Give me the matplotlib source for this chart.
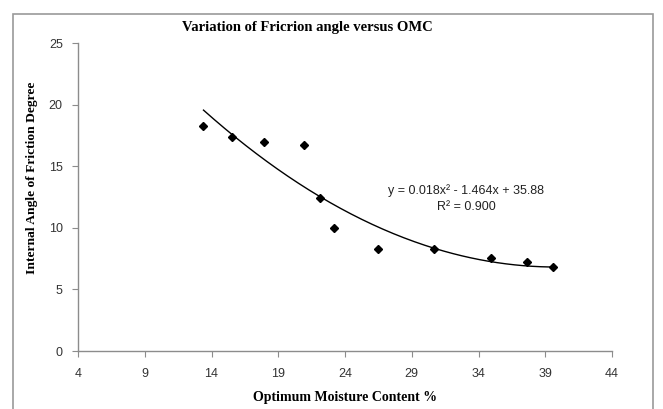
import matplotlib.pyplot as plt
from matplotlib.patches import Rectangle
import numpy as np

# Optimum moisture content (%) and internal friction angle (degree)
omc = [13.4, 15.5, 17.9, 20.9, 22.1, 23.2, 26.5, 30.7, 34.9, 37.6, 39.6]
phi = [18.3, 17.4, 17.0, 16.7, 12.4, 9.95, 8.25, 8.3, 7.55, 7.2, 6.8]

x_ticks = [4, 9, 14, 19, 24, 29, 34, 39, 44]
y_ticks = [0, 5, 10, 15, 20, 25]

eq_text = "y = 0.018x² - 1.464x + 35.88"
r2_text = "R² = 0.900"

fig = plt.figure(figsize=(6.63, 4.09), dpi=100)
ax = fig.add_axes([78 / 663, 1 - 351 / 409, (612 - 78) / 663, (351 - 43) / 409])

# polynomial trendline (order 2) fitted on the points
coef = np.polyfit(omc, phi, 2)
xs = np.linspace(min(omc), max(omc), 200)
ax.plot(xs, np.polyval(coef, xs), color="black", lw=1.0)

ax.plot(omc, phi, linestyle="none", marker="D", markersize=4.2,
        color="black")

ax.set_xlim(4, 44)
ax.set_ylim(0, 25)
ax.set_xticks(x_ticks)
ax.set_yticks(y_ticks)

for s in ["top", "right"]:
    ax.spines[s].set_visible(False)
for s in ["left", "bottom"]:
    ax.spines[s].set_color("#8c8c8c")
    ax.spines[s].set_linewidth(1.0)
ax.tick_params(colors="#8c8c8c", length=4, width=0.8, labelcolor="#333333",
               labelsize=9)
ax.tick_params(axis="x", pad=8)
ax.tick_params(axis="y", pad=7)
for lab in ax.get_xticklabels() + ax.get_yticklabels():
    lab.set_fontfamily("Liberation Sans")

# trendline equation
ax.text(33.1, 13.0, eq_text, ha="center", va="center", fontsize=9,
        family="Liberation Sans", color="#222222")
ax.text(33.1, 11.65, r2_text, ha="center", va="center", fontsize=9,
        family="Liberation Sans", color="#222222")

fig.text(307 / 663, 1 - 27 / 409, "Variation of Fricrion angle versus OMC",
         ha="center", va="center", fontsize=10.5, fontweight="bold",
         family="Liberation Serif")
fig.text(345 / 663, 1 - 398 / 409, "Optimum Moisture Content %",
         ha="center", va="center", fontsize=10, fontweight="bold",
         family="Liberation Serif")
fig.text(32 / 663, 1 - 178 / 409, "Internal Angle of Friction Degree",
         ha="center", va="center", rotation=90, fontsize=9.7,
         fontweight="bold", family="Liberation Serif")

fig.patches.append(Rectangle((13 / 663, -0.01), (653 - 13) / 663,
                             1 - 14 / 409 + 0.01, transform=fig.transFigure,
                             fill=False, edgecolor="#9a9a9a", lw=1.2))

fig.savefig("out.png", dpi=100)
